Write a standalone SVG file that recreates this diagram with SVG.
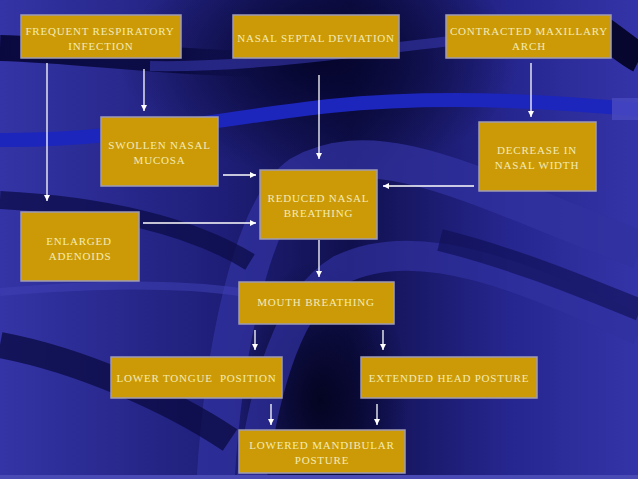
<svg xmlns="http://www.w3.org/2000/svg" width="638" height="479" viewBox="0 0 638 479">
<defs>
<linearGradient id="bg" x1="0" y1="0" x2="1" y2="0">
<stop offset="0" stop-color="#3434A6"/>
<stop offset="0.35" stop-color="#1E1E78"/>
<stop offset="0.55" stop-color="#10104E"/>
<stop offset="0.8" stop-color="#262690"/>
<stop offset="1" stop-color="#3434A8"/>
</linearGradient>
<linearGradient id="fadeR" x1="0" y1="0" x2="1" y2="0">
<stop offset="0" stop-color="#07073A" stop-opacity="0.95"/>
<stop offset="0.7" stop-color="#07073A" stop-opacity="0.8"/>
<stop offset="1" stop-color="#07073A" stop-opacity="0"/>
</linearGradient>
<radialGradient id="darkTop" cx="0.5" cy="0.5" r="0.5">
<stop offset="0" stop-color="#04042A" stop-opacity="0.95"/>
<stop offset="1" stop-color="#04042A" stop-opacity="0"/>
</radialGradient>
<radialGradient id="darkBot" cx="0.5" cy="0.5" r="0.5">
<stop offset="0" stop-color="#03031F" stop-opacity="0.95"/>
<stop offset="1" stop-color="#03031F" stop-opacity="0"/>
</radialGradient>
<marker id="ah" markerUnits="userSpaceOnUse" markerWidth="8" markerHeight="8" refX="6" refY="3" orient="auto">
<path d="M0,0 L6,3 L0,6 Z" fill="#FFFFFF"/>
</marker>
<style>
.box{fill:#CC9A06;stroke:#A09CB4;stroke-width:1.5}
.t{font-family:"Liberation Serif","Times New Roman",serif;font-size:11px;letter-spacing:0.8px;fill:#F3EBB5;text-anchor:middle}
.c{stroke:#FFFFFF;stroke-width:1.3;fill:none;marker-end:url(#ah)}
</style>
</defs>

<g id="background">
<rect x="0" y="0" width="638" height="479" fill="url(#bg)"/>
<ellipse cx="320" cy="60" rx="200" ry="115" fill="url(#darkTop)"/>
<ellipse cx="320" cy="400" rx="90" ry="140" fill="url(#darkBot)"/>
<path d="M0,48 C80,50 150,62 260,64" stroke="url(#fadeR)" stroke-width="26" fill="none"/>
<path d="M150,66 C250,68 350,52 460,40" stroke="#3A3AB4" stroke-width="10" fill="none" opacity="0.55"/>
<path d="M600,30 C615,40 628,52 640,58" stroke="#06062E" stroke-width="30" fill="none"/>
<path d="M0,140 C120,141 220,118 330,106 C430,96 540,100 640,110" stroke="#1C26BC" stroke-width="14" fill="none"/>
<rect x="612" y="98" width="26" height="22" fill="#4A4AC0" opacity="0.8"/>
<path d="M215,490 C222,360 250,210 300,175 C380,130 480,190 640,250" stroke="#3232A0" stroke-width="38" fill="none" opacity="0.75"/>
<path d="M250,490 C265,380 290,300 340,270 C420,230 530,280 640,330" stroke="#3030A0" stroke-width="30" fill="none" opacity="0.7"/>
<path d="M0,200 C100,205 190,225 250,262" stroke="#0C0C48" stroke-width="18" fill="none" opacity="0.75"/>
<path d="M0,292 C80,285 170,282 240,292" stroke="#4040B4" stroke-width="8" fill="none" opacity="0.55"/>
<path d="M0,345 C80,360 170,400 230,440" stroke="#0A0A40" stroke-width="26" fill="none" opacity="0.75"/>
<path d="M440,240 C520,260 590,290 640,310" stroke="#0E0E50" stroke-width="22" fill="none" opacity="0.6"/>
<rect x="0" y="475" width="638" height="4" fill="#4A4AB4"/>
</g>

<g id="connectors">
<line class="c" x1="47" y1="63" x2="47" y2="201"/>
<line class="c" x1="144" y1="69" x2="144" y2="111"/>
<line class="c" x1="319" y1="75" x2="319" y2="159"/>
<line class="c" x1="531" y1="63" x2="531" y2="117"/>
<line class="c" x1="223" y1="175" x2="256" y2="175"/>
<line class="c" x1="474" y1="186" x2="383" y2="186"/>
<line class="c" x1="143" y1="223" x2="256" y2="223"/>
<line class="c" x1="319" y1="240" x2="319" y2="277"/>
<line class="c" x1="255" y1="330" x2="255" y2="350"/>
<line class="c" x1="383" y1="330" x2="383" y2="350"/>
<line class="c" x1="271" y1="404" x2="271" y2="425"/>
<line class="c" x1="377" y1="404" x2="377" y2="425"/>
</g>

<g id="n-frequent">
<rect class="box" x="21" y="15" width="160" height="43"/>
<text class="t" x="100" y="35">FREQUENT RESPIRATORY</text>
<text class="t" x="101" y="50">INFECTION</text>
</g>
<g id="n-septal">
<rect class="box" x="233" y="15" width="166" height="43"/>
<text class="t" x="316" y="42">NASAL SEPTAL DEVIATION</text>
</g>
<g id="n-contracted">
<rect class="box" x="446" y="15" width="165" height="43"/>
<text class="t" x="529" y="35">CONTRACTED MAXILLARY</text>
<text class="t" x="529" y="50">ARCH</text>
</g>
<g id="n-swollen">
<rect class="box" x="101" y="117" width="117" height="69"/>
<text class="t" x="159.5" y="149">SWOLLEN NASAL</text>
<text class="t" x="159.5" y="164">MUCOSA</text>
</g>
<g id="n-decrease">
<rect class="box" x="479" y="122" width="117" height="69"/>
<text class="t" x="537" y="154">DECREASE IN</text>
<text class="t" x="537" y="169">NASAL WIDTH</text>
</g>
<g id="n-reduced">
<rect class="box" x="260" y="170" width="117" height="69"/>
<text class="t" x="318.5" y="202">REDUCED NASAL</text>
<text class="t" x="318.5" y="217">BREATHING</text>
</g>
<g id="n-adenoids">
<rect class="box" x="21" y="212" width="118" height="69"/>
<text class="t" x="79" y="245">ENLARGED</text>
<text class="t" x="80" y="260">ADENOIDS</text>
</g>
<g id="n-mouth">
<rect class="box" x="239" y="282" width="155" height="42"/>
<text class="t" x="316" y="306">MOUTH BREATHING</text>
</g>
<g id="n-tongue">
<rect class="box" x="111" y="357" width="171" height="41"/>
<text class="t" x="196.5" y="382" style="white-space:pre">LOWER TONGUE  POSITION</text>
</g>
<g id="n-head">
<rect class="box" x="361" y="357" width="176" height="41"/>
<text class="t" x="449" y="382">EXTENDED HEAD POSTURE</text>
</g>
<g id="n-mandibular">
<rect class="box" x="239" y="430" width="166" height="43"/>
<text class="t" x="322" y="449">LOWERED MANDIBULAR</text>
<text class="t" x="322" y="464">POSTURE</text>
</g>
</svg>
